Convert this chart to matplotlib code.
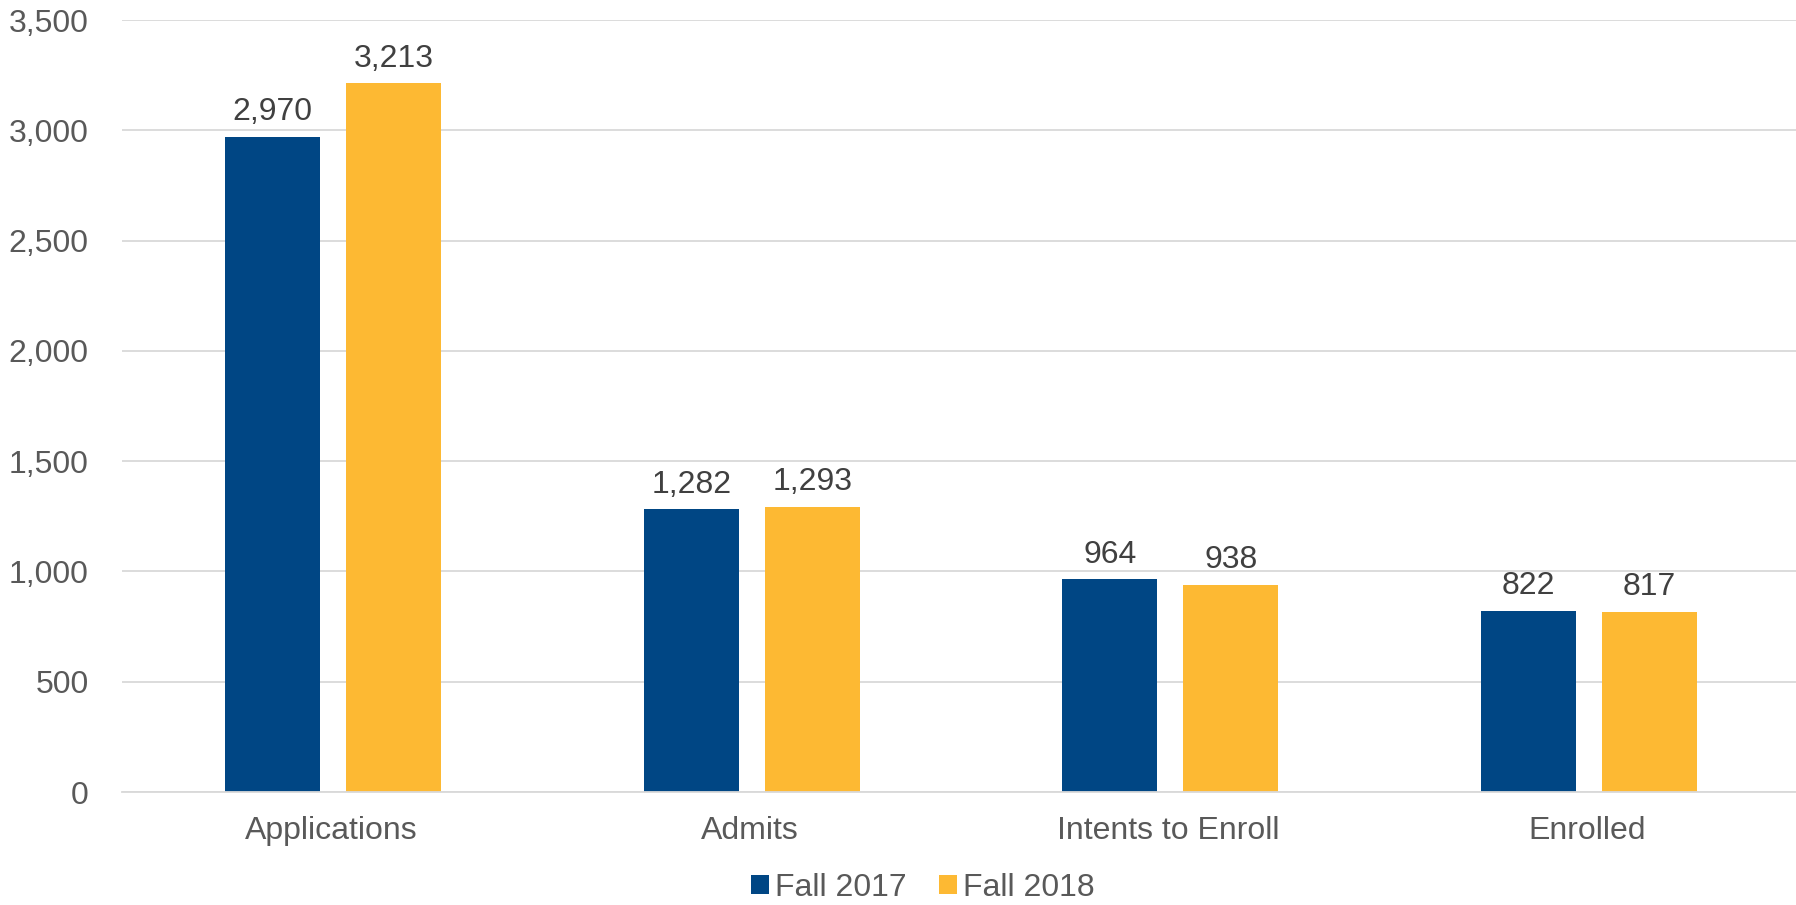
import numpy as np
from matplotlib import pyplot as plt

categories = ["Applications", "Admits", "Intents to Enroll", "Enrolled"]
fall_2017 = [2970, 1282, 964, 822]
fall_2018 = [3213, 1293, 938, 817]
series_names = ["Fall 2017", "Fall 2018"]
y_ticks = [0, 500, 1000, 1500, 2000, 2500, 3000, 3500]

BLUE = "#004684"
GOLD = "#FDB933"
GRID = "#D9D9D9"
TICK_TEXT = "#595959"
LABEL_TEXT = "#404040"
FONT_SIZE = 23

plt.rcParams["font.family"] = ["Liberation Sans", "DejaVu Sans"]

fig = plt.figure(figsize=(17.96, 9.05), dpi=100)
ax = fig.add_axes([122 / 1796, 1 - 792 / 905, 1 - 122 / 1796, (792 - 20) / 905])

x = np.arange(len(categories))
width = 0.227
offset = 0.1445

bars_a = ax.bar(x - offset + 0.005, fall_2017, width, color=BLUE, label=series_names[0])
bars_b = ax.bar(x + offset + 0.005, fall_2018, width, color=GOLD, label=series_names[1])

for bars in (bars_a, bars_b):
    for bar in bars:
        h = bar.get_height()
        ax.annotate(f"{h:,.0f}", (bar.get_x() + bar.get_width() / 2, h),
                    xytext=(0, 7), textcoords="offset points",
                    ha="center", va="bottom", fontsize=FONT_SIZE, color=LABEL_TEXT)

ax.set_xlim(-0.5, len(categories) - 0.5)
ax.set_ylim(0, 3500)
ax.set_yticks(y_ticks)
ax.set_yticklabels([f"{v:,}" for v in y_ticks])
ax.set_xticks(x)
ax.set_xticklabels(categories)
ax.tick_params(axis="y", length=0, pad=24, labelsize=FONT_SIZE, labelcolor=TICK_TEXT)
ax.tick_params(axis="x", length=0, pad=17, labelsize=FONT_SIZE, labelcolor=TICK_TEXT)

ax.yaxis.grid(True, color=GRID, linewidth=1.3)
ax.set_axisbelow(True)
for side in ("top", "right", "left"):
    ax.spines[side].set_visible(False)
ax.spines["bottom"].set_color(GRID)
ax.spines["bottom"].set_linewidth(1.3)

fig.legend(handles=[bars_a, bars_b], labels=series_names, loc="center",
           bbox_to_anchor=(923 / 1796, 1 - 888 / 905), ncol=2, frameon=False,
           fontsize=FONT_SIZE, labelcolor=TICK_TEXT, handlelength=0.55, handleheight=0.55,
           handletextpad=0.2, columnspacing=1.0)

fig.savefig("out.png", dpi=100, facecolor="white")
